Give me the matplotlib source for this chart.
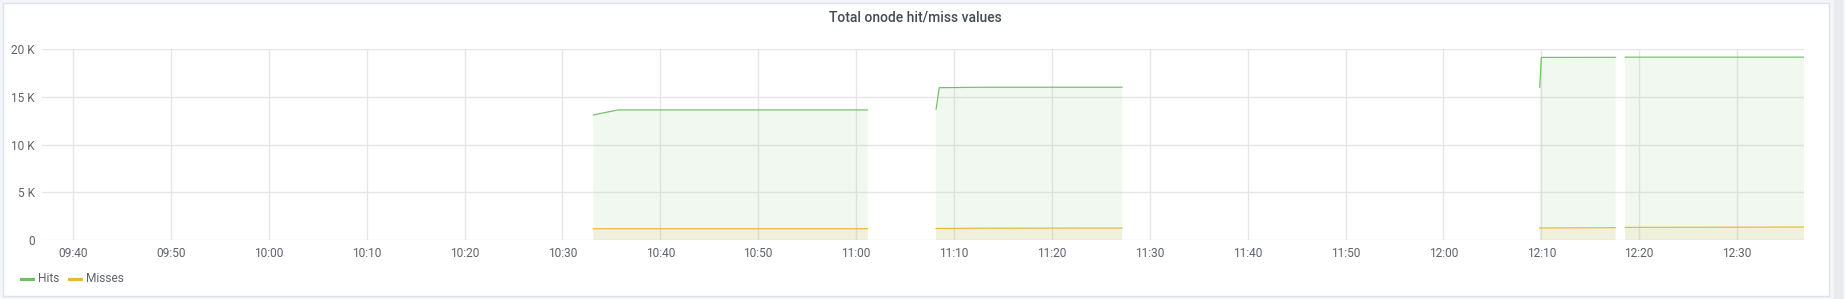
import numpy as np
import pandas as pd
import matplotlib
matplotlib.use("Agg")
from matplotlib import pyplot as plt
from matplotlib import dates as mdates
from matplotlib.lines import Line2D
from matplotlib.patches import Rectangle
from matplotlib.ticker import FuncFormatter

plt.rcParams['font.family'] = ['Roboto', 'DejaVu Sans']

day = "2021-01-01 "
# NaN rows break the series into the separate runs seen in the panel
times = ["10:33:10", "10:35:40", "11:01:10", "11:04:00",
         "11:08:10", "11:08:30", "11:13:20", "11:27:10", "11:40:00",
         "12:09:50", "12:10:00", "12:17:35", "12:18:00",
         "12:18:35", "12:36:50"]
hits = [13100, 13620, 13620, np.nan,
        13700, 15950, 16000, 16000, np.nan,
        16000, 19120, 19130, np.nan,
        19150, 19150]
misses = [1180, 1180, 1180, np.nan,
          1200, 1210, 1240, 1250, np.nan,
          1250, 1260, 1290, np.nan,
          1320, 1360]

t = pd.to_datetime([day + s for s in times])
hits = np.array(hits, dtype=float)
misses = np.array(misses, dtype=float)

green = '#73bf69'
yellow = '#eab839'
grid = '#e6e6e6'
txt = '#5f636b'

W, H = 1845, 299
fig = plt.figure(figsize=(W / 100, H / 100), dpi=100, facecolor='#f4f5f8')

# panel card, behind the axes
fig.patches.append(Rectangle((3 / W, 3 / H), 1826 / W, 293 / H, transform=fig.transFigure,
                             facecolor='white', edgecolor='#dde1e8', linewidth=1, zorder=-10))
fig.patches.append(Rectangle((1834 / W, 0), 9 / W, 1, transform=fig.transFigure,
                             facecolor='#e9ebef', edgecolor='none', zorder=-10))

ax = fig.add_axes([42 / W, 1 - 240 / H, 1762 / W, 191 / H])
ax.set_facecolor('none')
ax.set_zorder(5)

ax.plot(t, hits, color=green, lw=0.85)
ax.fill_between(t, 0, hits, color=green, alpha=0.1, lw=0)
ax.plot(t, misses, color=yellow, lw=0.85)
ax.fill_between(t, 0, misses, color=yellow, alpha=0.1, lw=0)

ax.set_xlim(pd.Timestamp(day + "09:36:50"), pd.Timestamp(day + "12:36:50"))
ax.set_ylim(0, 20000)
ax.set_yticks([0, 5000, 10000, 15000, 20000])
ax.yaxis.set_major_formatter(FuncFormatter(lambda v, p: '0' if v == 0 else '%d K' % (v / 1000)))
ax.xaxis.set_major_locator(mdates.MinuteLocator(byminute=range(0, 60, 10)))
ax.xaxis.set_major_formatter(mdates.DateFormatter('%H:%M'))

for s in ax.spines.values():
    s.set_visible(False)
ax.grid(True, color=grid, lw=1)
ax.set_axisbelow(True)
ax.tick_params(length=0, labelsize=8.6, colors=txt)
ax.tick_params(axis='y', pad=5)
ax.tick_params(axis='x', pad=5)

fig.text(915 / W, 1 - 18 / H, 'Total onode hit/miss values', ha='center', va='center',
         fontsize=10, fontweight='medium', color='#464c54')

# legend
ly = 1 - 279 / H
fig.add_artist(Line2D([21 / W, 33 / W], [ly, ly], color=green, lw=2.3, transform=fig.transFigure))
fig.text(38 / W, ly, 'Hits', ha='left', va='center', fontsize=8.6, color=txt)
fig.add_artist(Line2D([69 / W, 81 / W], [ly, ly], color=yellow, lw=2.3, transform=fig.transFigure))
fig.text(86 / W, ly, 'Misses', ha='left', va='center', fontsize=8.6, color=txt)

fig.savefig('out.png', dpi=100, facecolor=fig.get_facecolor())
